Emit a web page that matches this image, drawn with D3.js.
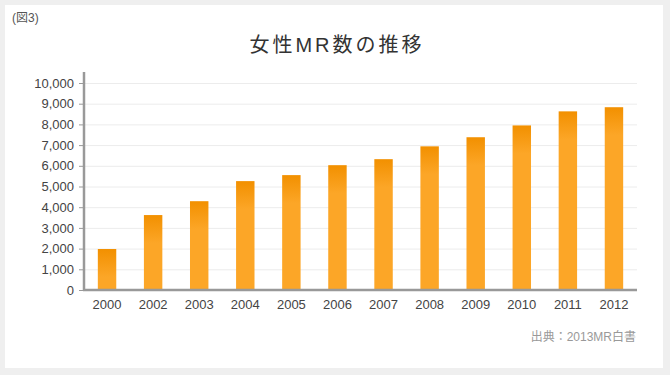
<!DOCTYPE html>
<html>
<head>
<meta charset="utf-8">
<script src="https://cdn.jsdelivr.net/npm/d3@7"></script>
<style>
  html, body { margin: 0; padding: 0; background: #efefef; }
  svg { display: block; }
  text { font-family: "Liberation Sans", "Noto Sans CJK JP", sans-serif; }
</style>
</head>
<body>
<svg id="chart" width="670" height="375"></svg>
<script>
// chart data
const years = ["2000", "2002", "2003", "2004", "2005", "2006", "2007", "2008", "2009", "2010", "2011", "2012"];
const womenMR = [1980, 3620, 4290, 5260, 5550, 6030, 6320, 6940, 7380, 7950, 8630, 8830];
const yTicks = [0, 1000, 2000, 3000, 4000, 5000, 6000, 7000, 8000, 9000, 10000];

const titleText = "女性MR数の推移";
const figLabel = "(図3)";
const sourceText = "出典：2013MR白書";

const svg = d3.select("#chart");

// white panel
svg.append("rect")
    .attr("x", 5).attr("y", 5)
    .attr("width", 658).attr("height", 363)
    .style("fill", "#fff");

const margin = { top: 83, right: 33, bottom: 85, left: 84 };
const width = 670 - margin.left - margin.right;
const height = 375 - margin.top - margin.bottom;

const xScale = d3.scaleBand()
    .domain(years)
    .range([margin.left, margin.left + width])
    .paddingInner(0.6)
    .paddingOuter(0.3);

const yScale = d3.scaleLinear()
    .domain([0, 10000])
    .range([margin.top + height, margin.top]);

// Gridlines
svg.append("g")
    .selectAll("line")
    .data(yTicks.filter(d => d > 0))
    .enter().append("line")
    .attr("x1", margin.left)
    .attr("x2", margin.left + width)
    .attr("y1", d => yScale(d) + 0.5)
    .attr("y2", d => yScale(d) + 0.5)
    .style("stroke", "#ececec")
    .style("stroke-width", 1);

// gradients, one per bar (dark top fading into the flat orange)
const defs = svg.append("defs");
years.forEach((y, i) => {
    const top = yScale(womenMR[i]);
    const g = defs.append("linearGradient")
        .attr("id", "grad" + i)
        .attr("gradientUnits", "userSpaceOnUse")
        .attr("x1", 0).attr("x2", 0)
        .attr("y1", top).attr("y2", top + 28);
    g.append("stop").attr("offset", "0%").attr("stop-color", "#f29000");
    g.append("stop").attr("offset", "100%").attr("stop-color", "#fca627");
});

// Bars
svg.append("g")
    .selectAll("rect")
    .data(womenMR)
    .enter().append("rect")
    .attr("x", (d, i) => xScale(years[i]))
    .attr("y", d => yScale(d))
    .attr("width", xScale.bandwidth())
    .attr("height", d => yScale(0) - yScale(d))
    .style("fill", (d, i) => "url(#grad" + i + ")");

// Y Axis
const yAxis = svg.append("g")
    .attr("transform", "translate(" + margin.left + ",0)")
    .call(d3.axisLeft(yScale)
        .tickValues(yTicks)
        .tickSize(5)
        .tickPadding(5)
        .tickFormat(d3.format(",")));
yAxis.select(".domain").remove();
yAxis.selectAll(".tick line").style("stroke", "#999");
yAxis.selectAll("text")
    .style("font-family", "Liberation Sans, sans-serif")
    .style("font-size", "13px")
    .style("fill", "#444");

svg.append("line")
    .attr("x1", margin.left).attr("x2", margin.left)
    .attr("y1", margin.top - 11).attr("y2", yScale(0) + 1)
    .style("stroke", "#999")
    .style("stroke-width", 2.5);

// X Axis
const xAxis = svg.append("g")
    .attr("transform", "translate(0," + yScale(0) + ")")
    .call(d3.axisBottom(xScale).tickSize(0).tickPadding(10));
xAxis.select(".domain").remove();
xAxis.selectAll("text")
    .style("font-family", "Liberation Sans, sans-serif")
    .style("font-size", "13px")
    .style("fill", "#444");

svg.append("line")
    .attr("x1", margin.left - 1).attr("x2", margin.left + width)
    .attr("y1", yScale(0)).attr("y2", yScale(0))
    .style("stroke", "#999")
    .style("stroke-width", 2.5);

// titles
svg.append("text")
    .attr("x", 337).attr("y", 52)
    .attr("text-anchor", "middle")
    .style("font-size", "20px")
    .style("letter-spacing", "3px")
    .style("fill", "#333")
    .text(titleText);

svg.append("text")
    .attr("x", 12).attr("y", 22)
    .style("font-size", "12px")
    .style("fill", "#555")
    .text(figLabel);

svg.append("text")
    .attr("x", 636).attr("y", 341)
    .attr("text-anchor", "end")
    .style("font-size", "12px")
    .style("fill", "#999")
    .text(sourceText);
</script>
</body>
</html>
